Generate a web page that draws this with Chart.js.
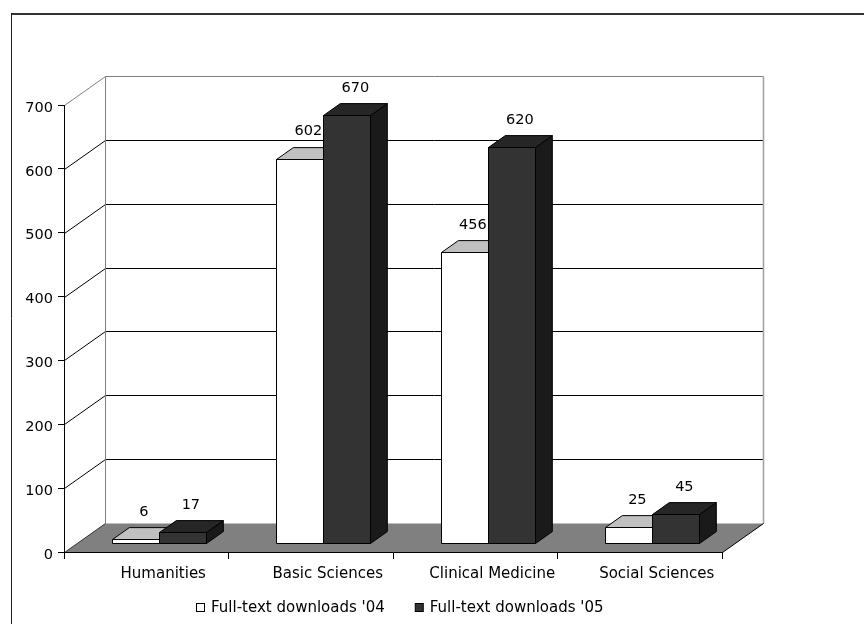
<!DOCTYPE html>
<html>
<head>
<meta charset="utf-8">
<script src="https://cdn.jsdelivr.net/npm/chart.js@4/dist/chart.umd.min.js"></script>
<style>
  html, body { margin: 0; padding: 0; background: #fff; }
  #wrap { width: 864px; height: 624px; position: relative; }
</style>
</head>
<body>
<div id="wrap"><canvas id="c" width="864" height="624"></canvas></div>
<script>
// Data
const categories = ['Humanities', 'Basic Sciences', 'Clinical Medicine', 'Social Sciences'];
const downloads04 = [6, 602, 456, 25];
const downloads05 = [17, 670, 620, 45];
const seriesNames = ["Full-text downloads '04", "Full-text downloads '05"];
const yMin = 0, yMax = 700, yStep = 100;

// Styling
const FONT = "'DejaVu Sans', 'Liberation Sans', sans-serif";
const WALL = { dx: 41, dy: 29 };          // depth of the 3D floor / walls
const BAR_NEAR = 0.31, BAR_FAR = 0.72;    // bar slab position within the depth
const FACES = [
  { front: '#ffffff', top: '#c0c0c0', side: '#a0a0a0', legend: '#ffffff' },
  { front: '#333333', top: '#262626', side: '#1a1a1a', legend: '#333333' }
];

function poly(ctx, pts, fill, stroke) {
  ctx.beginPath();
  ctx.moveTo(pts[0][0], pts[0][1]);
  for (let i = 1; i < pts.length; i++) ctx.lineTo(pts[i][0], pts[i][1]);
  ctx.closePath();
  if (fill) { ctx.fillStyle = fill; ctx.fill(); }
  if (stroke) { ctx.strokeStyle = stroke; ctx.lineWidth = 1; ctx.stroke(); }
}
function line(ctx, x1, y1, x2, y2, color, w) {
  ctx.beginPath();
  ctx.moveTo(x1, y1); ctx.lineTo(x2, y2);
  ctx.strokeStyle = color; ctx.lineWidth = w || 1; ctx.stroke();
}
const px = v => Math.round(v) + 0.5;

const box3d = {
  id: 'box3d',
  beforeDraw(chart) {
    const { ctx, chartArea: a, scales: { y } } = chart;
    const dx = WALL.dx, dy = WALL.dy;
    ctx.save();
    ctx.fillStyle = '#fff';
    ctx.fillRect(0, 0, chart.width, chart.height);

    // outer frame
    line(ctx, 11, 14, chart.width, 14, '#333', 2);
    line(ctx, 11.5, 13, 11.5, chart.height, '#222', 1);

    const L = px(a.left), R = px(a.right), B = px(a.bottom);
    const topY = px(y.getPixelForValue(yMax));

    // side-wall and back-wall gridlines
    for (let v = yMin + yStep; v <= yMax; v += yStep) {
      const yy = px(y.getPixelForValue(v));
      const col = v === yMax ? '#808080' : '#000';
      line(ctx, L, yy, L + dx, yy - dy, col, 1);
      line(ctx, L + dx, yy - dy, R + dx, yy - dy, col, 1);
    }
    // back wall edges
    line(ctx, L + dx, topY - dy, L + dx, B - dy, '#808080', 1);
    line(ctx, R + dx, topY - dy, R + dx, B - dy, '#a0a0a0', 1.5);

    // floor
    poly(ctx, [[L, B], [R, B], [R + dx, B - dy], [L + dx, B - dy]], '#808080', null);
    line(ctx, R, B, R + dx, B - dy, '#000', 1);
    line(ctx, L, B, L + dx, B - dy, '#333', 1);
    ctx.restore();
  },
  beforeDatasetsDraw(chart) {
    const { ctx } = chart;
    const ox = WALL.dx * BAR_NEAR, oy = WALL.dy * BAR_NEAR;
    const bdx = WALL.dx * (BAR_FAR - BAR_NEAR), bdy = WALL.dy * (BAR_FAR - BAR_NEAR);
    ctx.save();
    const n = chart.data.labels.length;
    for (let i = 0; i < n; i++) {
      chart.data.datasets.forEach((ds, d) => {
        const el = chart.getDatasetMeta(d).data[i];
        const p = el.getProps(['x', 'y', 'base', 'width'], true);
        const l = Math.round(p.x - p.width / 2 + ox) + 0.5;
        const r = Math.round(p.x + p.width / 2 + ox) + 0.5;
        const t = Math.round(p.y - oy) + 0.5;
        const b = Math.round(p.base - oy) + 0.5;
        const f = FACES[d];
        poly(ctx, [[r, t], [r + bdx, t - bdy], [r + bdx, b - bdy], [r, b]], f.side, '#000');
        poly(ctx, [[l, t], [r, t], [r + bdx, t - bdy], [l + bdx, t - bdy]], f.top, '#000');
        poly(ctx, [[l, t], [r, t], [r, b], [l, b]], f.front, '#000');
      });
    }
    ctx.restore();
    return false;
  },
  afterDraw(chart) {
    const { ctx } = chart;
    const ox = WALL.dx * BAR_NEAR, oy = WALL.dy * BAR_NEAR;
    const bdx = WALL.dx * (BAR_FAR - BAR_NEAR), bdy = WALL.dy * (BAR_FAR - BAR_NEAR);
    ctx.save();
    // value labels above each bar
    ctx.font = '14.5px ' + FONT;
    ctx.fillStyle = '#000';
    ctx.textAlign = 'center';
    ctx.textBaseline = 'middle';
    chart.data.datasets.forEach((ds, d) => {
      chart.getDatasetMeta(d).data.forEach((el, i) => {
        const p = el.getProps(['x', 'y'], true);
        ctx.fillText(String(ds.data[i]), p.x + ox + bdx / 2, p.y - oy - bdy - 15);
      });
    });

    // legend
    ctx.font = '15px ' + FONT;
    ctx.textAlign = 'left';
    const box = 8, gapText = 7, gapItem = 30;
    const widths = seriesNames.map(s => ctx.measureText(s).width);
    const total = widths.reduce((s, w) => s + w + box + gapText, 0) + gapItem * (seriesNames.length - 1);
    let x = Math.round(400 - total / 2);
    const ly = 608;
    seriesNames.forEach((s, k) => {
      ctx.fillStyle = FACES[k].legend;
      ctx.fillRect(x + 0.5, ly - 4.5, box, box);
      ctx.strokeStyle = '#000'; ctx.lineWidth = 1;
      ctx.strokeRect(x + 0.5, ly - 4.5, box, box);
      ctx.fillStyle = '#000';
      ctx.fillText(s, x + box + gapText, ly);
      x += box + gapText + widths[k] + gapItem;
    });
    ctx.restore();
  }
};

new Chart(document.getElementById('c'), {
  type: 'bar',
  data: {
    labels: categories,
    datasets: [
      { label: seriesNames[0], data: downloads04, backgroundColor: FACES[0].front, borderColor: '#000', borderWidth: 1 },
      { label: seriesNames[1], data: downloads05, backgroundColor: FACES[1].front, borderColor: '#000', borderWidth: 1 }
    ]
  },
  options: {
    responsive: false,
    animation: false,
    devicePixelRatio: 1,
    categoryPercentage: 2 / 3.5,
    barPercentage: 1,
    layout: { padding: { left: 14, right: 142, top: 105, bottom: 0 } },
    plugins: { legend: { display: false }, tooltip: { enabled: false } },
    scales: {
      x: {
        afterFit: s => { s.height = 72; },
        grid: { drawOnChartArea: false, offset: true, color: '#000', tickLength: 7 },
        border: { color: '#000', width: 1 },
        ticks: { color: '#000', font: { family: FONT, size: 15 }, padding: 6, labelOffset: 17, maxRotation: 0 }
      },
      y: {
        min: yMin, max: yMax,
        afterFit: s => { s.width = 50; },
        grid: { drawOnChartArea: false, color: '#000', tickLength: 6 },
        border: { color: '#000', width: 1 },
        ticks: { stepSize: yStep, color: '#000', font: { family: FONT, size: 14.5 }, padding: 5, labelOffset: 3 }
      }
    }
  },
  plugins: [box3d]
});
</script>
</body>
</html>
